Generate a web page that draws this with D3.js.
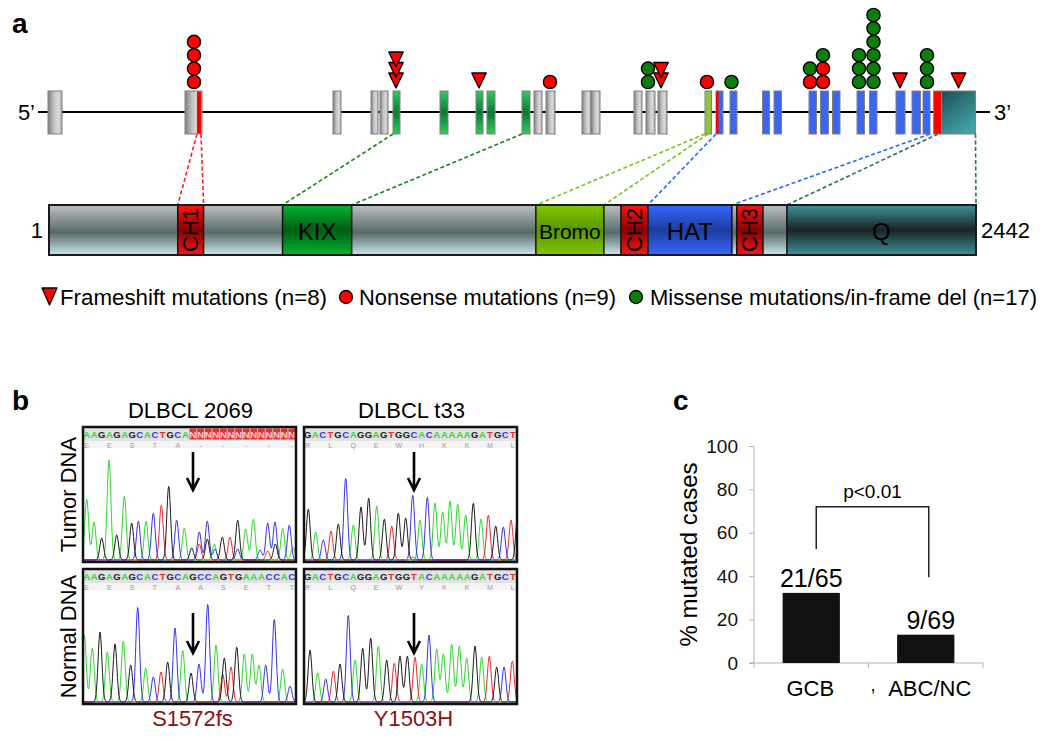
<!DOCTYPE html>
<html><head><meta charset="utf-8">
<script src="https://cdn.jsdelivr.net/npm/d3@7"></script>
<style>
body{margin:0;background:#fff}
svg{display:block}
text{font-family:"Liberation Sans",Arial,sans-serif}
</style>
</head><body>
<svg id="fig" width="1050" height="741"></svg>
<script>
// ---------------- DATA ----------------
// Panel a: gene model (relative genomic units) and protein (aa)
const exonStart = [10,147,295,333,342,355,402,438,449,484,496,508,544,553,596,608,620,667,678,692,724.5,736,771,782.5,794.5,819,831.5,858,874,885,895.5,903.5];
const exonEnd   = [24,164,303,340,350,362,410,445,457,492,504,517,553,562,604,617,629,673.5,685,699,731.5,743.5,778.5,790.5,802,826.5,839,867,882.5,892,903.5,937.5];
const exonKind  = ["gray","gray","gray","gray","gray","green","green","green","green","green","gray","gray","gray","gray","gray","gray","gray","lime","blue","blue","blue","blue","blue","blue","blue","blue","blue","blue","blue","blue","red","teal"];
const stripeExon = [1, 18];
const stripeStart = [159, 678];
const stripeEnd = [163, 680.5];
const geneLength = 952;

const mutPos   = [156, 358, 441, 512, 610, 623, 669, 693.5, 772, 785, 821, 835.5, 862, 889, 920.5];
const mutTypes = [["N","N","N","N"],["F","F","F"],["F"],["N"],["M","M"],["F","F"],["N"],["M"],["N","M"],["N","N","M"],["M","M","M"],["M","M","M","M","M","M"],["F"],["M","M","M"],["F"]];

const proteinLength = 2442;
const domainName  = ["CH1","KIX","Bromo","CH2","HAT","CH3","Q"];
const domainStart = [340, 616, 1283, 1507, 1578, 1812, 1944];
const domainEnd   = [408, 798, 1462, 1578, 1799, 1881, 2442];
const domainKind  = ["red","green","lime","red","blue","red","teal"];

const linkGene  = [159, 163, 355, 484, 667, 670, 678, 892, 900, 937.5];
const linkAA    = [340, 408, 616, 798, 1283, 1462, 1578, 1799, 1944, 2442];
const linkColor = ["#ff2020","#ff2020","#138a13","#138a13","#7cc21e","#7cc21e","#1f6bff","#1f6bff","#2f6b6e","#2f6b6e"];

const legendLabels = ["Frameshift mutations (n=8)","Nonsense mutations (n=9)","Missense mutations/in-frame del (n=17)"];

// Panel b: chromatograms  [position, signal, base]
const titlesB = ["DLBCL 2069","DLBCL t33"];
const rowLabelsB = ["Tumor DNA","Normal DNA"];
const mutLabelsB = ["S1572fs","Y1503H"];
const seqTL = "AAGAGAGCACTGCANNNNNNNNNNNNNN";
const aaTL  = ["E","E","S","T","A","-","-","-","-","-"];
const seqBL = "AAGAGAGCACTGCAGCCAGTGAAACCAC";
const aaBL  = ["E","E","S","T","A","A","S","E","T","T"];
const seqTR = "GACTGCAGGAGTGGCACAAAAAGATGCTG";
const aaTR  = ["R","L","Q","E","W","H","K","K","M","L"];
const seqBR = "GACTGCAGGAGTGGTACAAAAAGATGCTG";
const aaBR  = ["R","L","Q","E","W","Y","K","K","M","L"];
const arrowIndex = 14;

const peaksTL = [[3.7,61,"A"],[11,38,"A"],[18.7,22,"G"],[26,100,"A"],[33.7,25,"G"],[41.3,64,"A"],[48.7,37,"G"],[55.3,39,"C"],[63,39,"A"],[70.3,47,"C"],[78.3,55,"T"],[85.7,74,"G"],[93.7,40,"C"],[101.3,32,"A"],[108.7,12,"G"],[116.3,28,"C"],[116.3,16,"T"],[124.3,39,"C"],[124.3,21,"G"],[131.3,16,"A"],[132,11,"C"],[139.3,23,"G"],[147,23,"T"],[154.7,40,"G"],[154.7,11,"C"],[162.7,31,"A"],[170.3,41,"A"],[177,10,"C"],[184.7,9,"T"],[184.7,37,"C"],[192.3,16,"G"],[192,38,"C"],[199.7,32,"A"],[206.3,35,"C"],[210,13,"A"]];
const peaksTR = [[4.3,51,"G"],[11.7,28,"A"],[19.3,20,"C"],[27,29,"T"],[34.3,36,"G"],[41.7,82,"C"],[49.3,35,"A"],[57,53,"G"],[64.7,62,"G"],[72.7,54,"A"],[80.3,41,"G"],[87.7,34,"T"],[94.3,47,"G"],[101.7,42,"G"],[108.7,65,"C"],[109,3,"T"],[116,40,"A"],[123.3,63,"C"],[131,57,"A"],[138.7,48,"A"],[146,59,"A"],[153.7,56,"A"],[161.7,45,"A"],[169.3,57,"G"],[177,41,"A"],[184.3,45,"T"],[191.7,34,"G"],[199.3,33,"C"],[207,40,"T"],[213.7,45,"G"]];
const peaksBL = [[1.3,67,"A"],[9.3,54,"A"],[17,70,"G"],[24.3,50,"A"],[32,58,"G"],[40.3,61,"A"],[47.7,37,"G"],[54.7,95,"C"],[62.7,34,"A"],[70.3,25,"C"],[78,30,"T"],[84.7,40,"G"],[92,74,"C"],[99.7,52,"A"],[108,29,"G"],[116,38,"C"],[124.7,98,"C"],[133,57,"A"],[139.7,28,"T"],[141.3,44,"G"],[148,35,"T"],[153.7,55,"G"],[161.3,48,"A"],[169.3,48,"A"],[176,37,"A"],[182.7,37,"C"],[191.3,83,"C"],[199.7,33,"A"],[207,16,"C"]];
const peaksBR = [[6,52,"G"],[13.7,29,"A"],[21.7,23,"C"],[29.3,31,"T"],[36,38,"G"],[44.3,87,"C"],[51,42,"A"],[58.7,54,"G"],[66.7,64,"G"],[74.3,56,"A"],[82.7,42,"G"],[90.3,39,"T"],[96,46,"G"],[103.3,46,"G"],[111,45,"T"],[117.7,38,"A"],[125,67,"C"],[132.7,53,"A"],[139.3,48,"A"],[147.7,58,"A"],[155.3,56,"A"],[162.7,44,"A"],[171,56,"G"],[177.7,45,"A"],[185.3,46,"T"],[192.7,35,"G"],[200,35,"C"],[208.3,41,"T"]];

// Panel c
const groupsC = ["GCB","ABC/NC"];
const mutatedC = [21, 9];
const totalC = [65, 69];
const yTicksC = [0,20,40,60,80,100];
const pLabel = "p<0.01";

// ---------------- DRAWING ----------------
const svg = d3.select("#fig");
const defs = svg.append("defs");
function grad(id, stops, x2, y2) {
  const g = defs.append("linearGradient").attr("id", id)
    .attr("x1", 0).attr("y1", 0).attr("x2", x2).attr("y2", y2);
  stops.forEach(s => g.append("stop").attr("offset", s[0]).attr("stop-color", s[1]));
}
grad("exGray", [[0,"#7f7f7f"],[0.45,"#c6c6c6"],[0.75,"#dadada"],[1,"#a9a9a9"]], 1, 0);
grad("exGreen", [[0,"#2fcc5c"],[0.5,"#0a7a30"],[1,"#2fcc5c"]], 0, 1);
grad("exTeal", [[0,"#1c4f52"],[1,"#41a2a6"]], 0.6, 1);
grad("pGray", [[0,"#bcc1c2"],[0.55,"#586969"],[1,"#cbe7ea"]], 0, 1);
grad("pRed", [[0,"#ff1414"],[0.5,"#870000"],[1,"#ff1414"]], 0, 1);
grad("pGreen", [[0,"#00b432"],[0.5,"#005c14"],[1,"#00b432"]], 0, 1);
grad("pLime", [[0,"#80c800"],[0.5,"#5a9500"],[1,"#80c800"]], 0, 1);
grad("pBlue", [[0,"#3767ff"],[0.5,"#1d3d9e"],[1,"#3767ff"]], 0, 1);
grad("pTeal", [[0,"#3f939a"],[0.5,"#1a2323"],[1,"#3f939a"]], 0, 1);

const exonFill = {gray:"url(#exGray)", green:"url(#exGreen)", lime:"#8cc63f", blue:"#3a66f2", red:"#ff0000", teal:"url(#exTeal)"};
const domFill = {red:"url(#pRed)", green:"url(#pGreen)", lime:"url(#pLime)", blue:"url(#pBlue)", teal:"url(#pTeal)"};

// panel letters
[["a",12,33],["b",12,410],["c",673,410]].forEach(d => {
  svg.append("text").attr("x", d[1]).attr("y", d[2]).text(d[0])
    .attr("font-size", 28).attr("font-weight", "bold");
});

// ---- Panel a ----
const geneX = d3.scaleLinear().domain([0, geneLength]).range([38, 990]);
const lineY = 112, exTop = 91, exBot = 134;
const ga = svg.append("g");
ga.append("line").attr("x1", geneX(0)).attr("x2", geneX(geneLength))
  .attr("y1", lineY).attr("y2", lineY).attr("stroke", "#000").attr("stroke-width", 2);
ga.append("text").attr("x", 35).attr("y", lineY + 8).attr("text-anchor", "end").attr("font-size", 22).text("5\u2019");
ga.append("text").attr("x", 994).attr("y", lineY + 8).attr("font-size", 22).text("3\u2019");

const exIdx = d3.range(exonStart.length);
ga.selectAll("rect.exon").data(exIdx).join("rect").attr("class", "exon")
  .attr("x", i => geneX(exonStart[i])).attr("width", i => geneX(exonEnd[i]) - geneX(exonStart[i]))
  .attr("y", exTop).attr("height", exBot - exTop)
  .attr("fill", i => exonFill[exonKind[i]])
  .attr("stroke", "#808080").attr("stroke-width", 1);
ga.selectAll("rect.stripe").data(d3.range(stripeExon.length)).join("rect").attr("class", "stripe")
  .attr("x", i => geneX(stripeStart[i])).attr("width", i => geneX(stripeEnd[i]) - geneX(stripeStart[i]))
  .attr("y", exTop + 0.5).attr("height", exBot - exTop - 1).attr("fill", "#ff0000");

// connectors
const protX = d3.scaleLinear().domain([1, proteinLength]).range([49, 976]);
const barTop = 205, barBot = 255;
ga.selectAll("line.link").data(d3.range(linkGene.length)).join("line").attr("class", "link")
  .attr("x1", i => geneX(linkGene[i])).attr("y1", exBot)
  .attr("x2", i => protX(linkAA[i])).attr("y2", barTop)
  .attr("stroke", i => linkColor[i]).attr("stroke-width", 1.6).attr("stroke-dasharray", "4,2.5");

// mutations
const circR = 6.6, circStep = 13.4, circBase = 82;
const triW = 14.5, triH = 15, triStep = 10.5, triTip = 88;
mutPos.forEach((p, j) => {
  const cx = geneX(p);
  const types = mutTypes[j];
  for (let k = 0; k < types.length; k++) {
    const t = types[k];
    if (t === "F") {
      const tip = triTip - k * triStep;
      ga.append("path").attr("d", `M${cx - triW/2},${tip - triH}L${cx + triW/2},${tip - triH}L${cx},${tip}Z`)
        .attr("fill", "#ff0000").attr("stroke", "#000").attr("stroke-width", 1.3).attr("stroke-linejoin", "round");
    } else {
      ga.append("circle").attr("cx", cx).attr("cy", circBase - k * circStep).attr("r", circR)
        .attr("fill", t === "N" ? "#ff0000" : "#0b7d0b").attr("stroke", "#000").attr("stroke-width", 1.4);
    }
  }
});

// protein bar
ga.append("rect").attr("x", protX(1)).attr("width", protX(proteinLength) - protX(1))
  .attr("y", barTop).attr("height", barBot - barTop).attr("fill", "url(#pGray)");
const dIdx = d3.range(domainName.length);
ga.selectAll("rect.dom").data(dIdx).join("rect").attr("class", "dom")
  .attr("x", i => protX(domainStart[i])).attr("width", i => protX(domainEnd[i]) - protX(domainStart[i]))
  .attr("y", barTop).attr("height", barBot - barTop)
  .attr("fill", i => domFill[domainKind[i]]).attr("stroke", "#111").attr("stroke-width", 1.5);
ga.append("rect").attr("x", protX(1)).attr("width", protX(proteinLength) - protX(1))
  .attr("y", barTop).attr("height", barBot - barTop).attr("fill", "none").attr("stroke", "#1a1a1a").attr("stroke-width", 2);
dIdx.forEach(i => {
  const cx = (protX(domainStart[i]) + protX(domainEnd[i])) / 2, cy = (barTop + barBot) / 2;
  const vertical = domainName[i].startsWith("CH");
  const t = ga.append("text").text(domainName[i]).attr("text-anchor", "middle")
    .attr("dominant-baseline", "central").attr("fill", "#000");
  if (vertical) {
    t.attr("transform", `translate(${cx},${cy}) rotate(-90)`).attr("font-size", 22);
  } else {
    t.attr("x", cx).attr("y", cy + 1).attr("font-size", domainName[i] === "Bromo" ? 21 : 24);
  }
});
ga.append("text").attr("x", 43).attr("y", 238).attr("text-anchor", "end").attr("font-size", 22).text("1");
ga.append("text").attr("x", 981).attr("y", 238).attr("font-size", 22).text(proteinLength);

// legend
const legY = 305;
ga.append("path").attr("d", `M42,${legY - 17}L57,${legY - 17}L49.5,${legY}Z`)
  .attr("fill", "#ff0000").attr("stroke", "#000").attr("stroke-width", 1.3).attr("stroke-linejoin", "round");
ga.append("circle").attr("cx", 346).attr("cy", legY - 8).attr("r", 6.5).attr("fill", "#ff0000").attr("stroke", "#000").attr("stroke-width", 1.3);
ga.append("circle").attr("cx", 636).attr("cy", legY - 8).attr("r", 6.5).attr("fill", "#0b7d0b").attr("stroke", "#000").attr("stroke-width", 1.3);
const legX = [60, 359, 650], legW = [267, 257, 387];
legendLabels.forEach((l, i) => {
  ga.append("text").attr("x", legX[i]).attr("y", legY).attr("font-size", 22)
    .attr("textLength", legW[i]).attr("lengthAdjust", "spacingAndGlyphs").text(l);
});

// ---- Panel b ----
const baseColor = {A:"#2bdc2b", C:"#3434f0", G:"#1a1a1a", T:"#f02a2a", N:"#f02a2a"};
const panelW = 213;
const panels = [
  {left:83, top:427, bottom:562, seq:seqTL, aa:aaTL, peaks:peaksTL, arrowTop:452, arrowTip:490},
  {left:304, top:427, bottom:562, seq:seqTR, aa:aaTR, peaks:peaksTR, arrowTop:452, arrowTip:490},
  {left:83, top:569, bottom:704, seq:seqBL, aa:aaBL, peaks:peaksBL, arrowTop:613, arrowTip:653},
  {left:304, top:569, bottom:704, seq:seqBR, aa:aaBR, peaks:peaksBR, arrowTop:613, arrowTip:653}
];
const letterStep = 7.6, letterOff = 3.6;
panels.forEach((P, pi) => {
  const g = svg.append("g");
  const cid = "clip" + pi;
  defs.append("clipPath").attr("id", cid).append("rect")
    .attr("x", P.left).attr("y", P.top).attr("width", panelW).attr("height", P.bottom - P.top);
  const inner = g.append("g").attr("clip-path", `url(#${cid})`);
  // header strip
  inner.append("rect").attr("x", P.left).attr("y", P.top).attr("width", panelW).attr("height", 14).attr("fill", "#e2e2e2");
  inner.append("rect").attr("x", P.left).attr("y", P.top + 14).attr("width", panelW).attr("height", 7).attr("fill", "#f4f4f4");
  const xs = d3.scaleLinear().domain([0, panelW]).range([P.left, P.left + panelW]);
  const ys = d3.scaleLinear().domain([0, 100]).range([P.bottom - 2, P.bottom - 102]);
  P.seq.split("").forEach((ch, i) => {
    const cx = P.left + letterOff + i * letterStep;
    if (ch === "N") {
      inner.append("rect").attr("x", cx - 3.4).attr("y", P.top + 1.5).attr("width", 6.8).attr("height", 11).attr("fill", "#ee2a2a");
    }
    inner.append("text").attr("x", cx).attr("y", P.top + 11).attr("text-anchor", "middle")
      .attr("font-family", "Liberation Mono, monospace").attr("font-weight", "bold").attr("font-size", 9.5)
      .attr("fill", ch === "N" ? "#ffd0d0" : baseColor[ch]).text(ch);
  });
  P.aa.forEach((ch, k) => {
    inner.append("text").attr("x", P.left + letterOff + 3 * k * letterStep).attr("y", P.top + 20.5)
      .attr("text-anchor", "middle").attr("font-family", "Liberation Serif, serif").attr("font-size", 7)
      .attr("fill", "#9a9a9a").text(ch);
  });
  // traces
  const sig = 1.9;
  const line = d3.line().x(d => xs(d[0])).y(d => ys(d[1]));
  ["A","T","C","G"].forEach(b => {
    const pk = P.peaks.filter(p => p[2] === b);
    const pts = d3.range(0, panelW + 0.5, 0.5).map(x => [x, d3.sum(pk, p => p[1] * Math.exp(-((x - p[0]) ** 2) / (2 * sig * sig)))]);
    inner.append("path").attr("d", line(pts)).attr("fill", "none").attr("stroke", baseColor[b]).attr("stroke-width", 1);
  });
  // arrow
  const ax = P.left + letterOff + arrowIndex * letterStep;
  g.append("path").attr("d", `M${ax},${P.arrowTop}L${ax},${P.arrowTip}M${ax - 6},${P.arrowTip - 12}L${ax},${P.arrowTip}L${ax + 6},${P.arrowTip - 12}`)
    .attr("fill", "none").attr("stroke", "#000").attr("stroke-width", 2.6);
  g.append("rect").attr("x", P.left).attr("y", P.top).attr("width", panelW).attr("height", P.bottom - P.top)
    .attr("fill", "none").attr("stroke", "#111").attr("stroke-width", 2.5);
});
titlesB.forEach((t, i) => {
  svg.append("text").attr("x", panels[i].left + panelW / 2 + 1).attr("y", 418).attr("text-anchor", "middle").attr("font-size", 22).text(t);
  svg.append("text").attr("x", panels[i].left + panelW / 2 + 3).attr("y", 726).attr("text-anchor", "middle").attr("font-size", 22)
    .attr("fill", "#8a1212").text(mutLabelsB[i]);
});
rowLabelsB.forEach((t, i) => {
  const P = panels[i * 2];
  svg.append("text").attr("transform", `translate(76,${(P.top + P.bottom) / 2}) rotate(-90)`)
    .attr("text-anchor", "middle").attr("font-size", 22).text(t);
});

// ---- Panel c ----
const gc = svg.append("g");
const yC = d3.scaleLinear().domain([0, 100]).range([663, 446]);
const xC = d3.scaleBand().domain(groupsC).range([754, 983]).paddingInner(0.5).paddingOuter(0.25);
const pct = mutatedC.map((m, i) => m / totalC[i] * 100);
const yAxis = gc.append("g").attr("transform", "translate(754,0)")
  .call(d3.axisLeft(yC).tickValues(yTicksC).tickSize(5).tickPadding(11));
yAxis.selectAll("path,line").attr("stroke", "#b4b4b4");
yAxis.selectAll("text").attr("font-size", 19).attr("fill", "#111").attr("font-family", "Liberation Sans, Arial, sans-serif");
yAxis.select("path").attr("d", `M0,${yC(100)}V${yC(0)}`);
gc.append("line").attr("x1", 749).attr("x2", 983).attr("y1", yC(0)).attr("y2", yC(0)).attr("stroke", "#b4b4b4");
const bounds = [754, 754 + xC.step(), 983];
bounds.forEach(b => gc.append("line").attr("x1", b).attr("x2", b).attr("y1", yC(0)).attr("y2", yC(0) + 5).attr("stroke", "#b4b4b4"));
gc.selectAll("rect.bar").data(groupsC).join("rect").attr("class", "bar")
  .attr("x", d => xC(d)).attr("width", xC.bandwidth())
  .attr("y", (d, i) => yC(pct[i])).attr("height", (d, i) => yC(0) - yC(pct[i])).attr("fill", "#111");
groupsC.forEach((d, i) => {
  gc.append("text").attr("x", xC(d) + xC.bandwidth() / 2 + (i ? 5 : 0)).attr("y", yC(pct[i]) - 6)
    .attr("text-anchor", "middle").attr("font-size", 25).text(`${mutatedC[i]}/${totalC[i]}`);
  gc.append("text").attr("x", xC(d) + xC.bandwidth() / 2 + (i ? 4 : -1)).attr("y", 696)
    .attr("text-anchor", "middle").attr("font-size", 22).text(d);
});
gc.append("text").attr("x", 873).attr("y", 691).attr("text-anchor", "middle").attr("font-size", 18).text(",");
const bx1 = xC(groupsC[0]) + xC.bandwidth() / 2 + 5, bx2 = xC(groupsC[1]) + xC.bandwidth() / 2 + 3;
gc.append("path").attr("d", `M${bx1},${yC(52.5)}V${yC(72)}H${bx2}V${yC(39.5)}`)
  .attr("fill", "none").attr("stroke", "#222").attr("stroke-width", 1.5);
gc.append("text").attr("x", (bx1 + bx2) / 2).attr("y", yC(72) - 9).attr("text-anchor", "middle").attr("font-size", 19).text(pLabel);
gc.append("text").attr("transform", `translate(697,${(yC(0) + yC(100)) / 2}) rotate(-90)`)
  .attr("text-anchor", "middle").attr("font-size", 24).text("% mutated cases");
</script>
</body></html>
